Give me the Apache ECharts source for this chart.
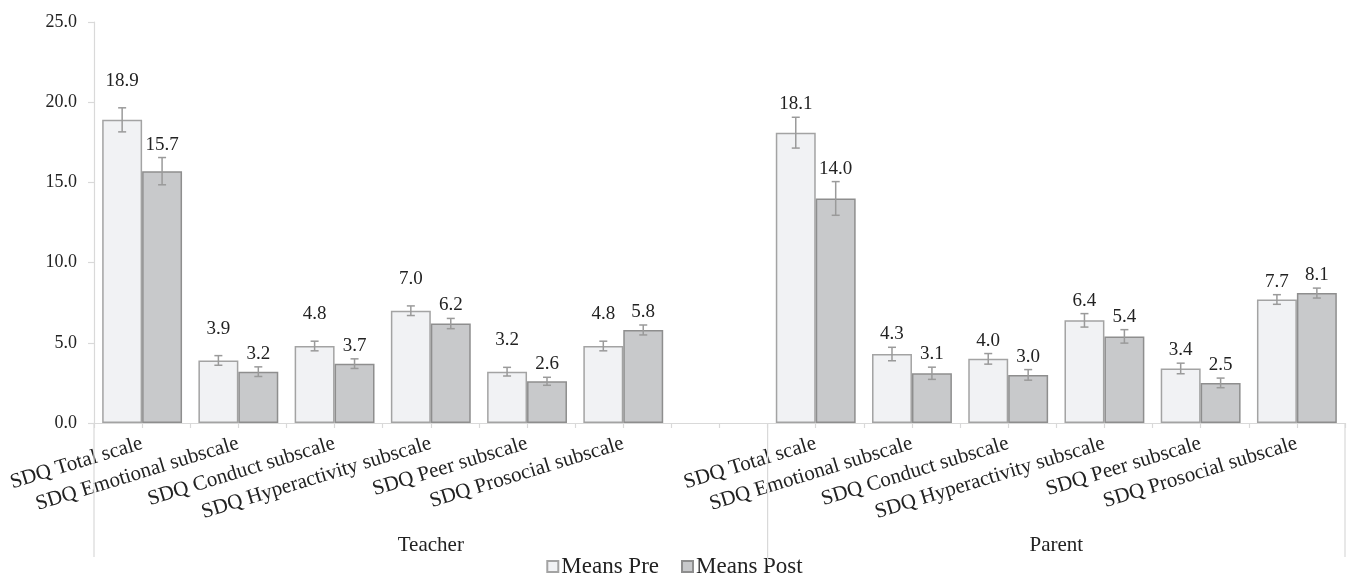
<!DOCTYPE html>
<html>
<head>
<meta charset="utf-8">
<script src="https://cdn.jsdelivr.net/npm/echarts@6/dist/echarts.min.js"></script>
<style>
  html, body { margin: 0; padding: 0; background: #fff; }
  #chart { width: 1349px; height: 575px; }
</style>
</head>
<body>
<div id="chart"></div>
<script>
// SDQ scores before and after, rated by teachers and by parents
const subscales = ['SDQ Total scale', 'SDQ Emotional subscale', 'SDQ Conduct subscale',
  'SDQ Hyperactivity subscale', 'SDQ Peer subscale', 'SDQ Prosocial subscale'];
const groups = ['Teacher', 'Parent'];
const seriesNames = ['Means Pre', 'Means Post'];

const teacherPre = [18.9, 3.9, 4.8, 7.0, 3.2, 4.8];
const teacherPost = [15.7, 3.2, 3.7, 6.2, 2.6, 5.8];
const parentPre = [18.1, 4.3, 4.0, 6.4, 3.4, 7.7];
const parentPost = [14.0, 3.1, 3.0, 5.4, 2.5, 8.1];

// standard errors drawn as error bars
const teacherPreErr = [0.75, 0.30, 0.30, 0.30, 0.27, 0.30];
const teacherPostErr = [0.85, 0.30, 0.30, 0.32, 0.25, 0.31];
const parentPreErr = [0.96, 0.42, 0.33, 0.42, 0.33, 0.30];
const parentPostErr = [1.05, 0.38, 0.33, 0.42, 0.30, 0.31];

const yTicks = [0, 5, 10, 15, 20, 25];

// ---- build the axis: teacher block, one empty slot, parent block ----
const axisCats = subscales.concat([''], subscales);
const gap = [null];
const preValues = teacherPre.concat(gap, parentPre);
const postValues = teacherPost.concat(gap, parentPost);
const preErrs = teacherPreErr.concat(gap, parentPreErr);
const postErrs = teacherPostErr.concat(gap, parentPostErr);

const BAR_FRAC = 0.415;
const FONT = '"Liberation Serif", "Times New Roman", serif';
const TEXT = '#222222';
const AXIS = '#d9d9d9';

// error bar items: [category index, mean, error, series index]
const errData = [];
preValues.forEach((v, i) => { if (v != null) errData.push([i, v, preErrs[i], 0]); });
postValues.forEach((v, i) => { if (v != null) errData.push([i, v, postErrs[i], 1]); });

// group spans on the category axis: [first index, last index, group index]
const groupSpans = [[0, subscales.length, 0], [subscales.length + 1, axisCats.length - 1, 1]];

function renderErr(params, api) {
  const idx = api.value(0), mean = api.value(1), err = api.value(2), s = api.value(3);
  const band = api.size([1, 0])[0];
  const bw = band * BAR_FRAC;
  const c = api.coord([idx, mean]);
  const x = c[0] + (s === 0 ? -bw / 2 : bw / 2);
  const yTop = api.coord([idx, mean + err])[1];
  const yBot = api.coord([idx, mean - err])[1];
  const cap = 4;
  const stroke = { stroke: '#9a9a9a', lineWidth: 1.5 };
  // teacher pre-scores carry their labels a little higher
  const lift = (s === 0 && idx < subscales.length) ? 27 : 13;
  return {
    type: 'group',
    children: [
      { type: 'line', shape: { x1: x, y1: yTop, x2: x, y2: yBot }, style: stroke },
      { type: 'line', shape: { x1: x - cap, y1: yTop, x2: x + cap, y2: yTop }, style: stroke },
      { type: 'line', shape: { x1: x - cap, y1: yBot, x2: x + cap, y2: yBot }, style: stroke },
      { type: 'text', x: x, y: yTop - lift,
        style: { text: mean.toFixed(1), fill: TEXT, font: '19px ' + FONT,
                 textAlign: 'center', textVerticalAlign: 'middle' } }
    ]
  };
}

function renderGroups(params, api) {
  const first = api.value(0), last = api.value(1), g = api.value(2);
  const band = api.size([1, 0])[0];
  const y0 = api.coord([first, 0])[1];
  const xl = api.coord([first, 0])[0] - band / 2;
  const xr = api.coord([last, 0])[0] + band / 2;
  const stroke = { stroke: AXIS, lineWidth: 1.2 };
  const children = [
    { type: 'line', shape: { x1: xl, y1: y0, x2: xl, y2: y0 + (g === 0 ? 134 : 142) }, style: stroke },
    { type: 'text', x: (xl + xr) / 2, y: y0 + 122,
      style: { text: groups[g], fill: TEXT, font: '21px ' + FONT,
               textAlign: 'center', textVerticalAlign: 'middle' } }
  ];
  if (g === groups.length - 1) {
    children.push({ type: 'line', shape: { x1: xr, y1: y0, x2: xr, y2: y0 + 134 }, style: stroke });
  }
  return { type: 'group', children: children };
}

const chart = echarts.init(document.getElementById('chart'), null, { renderer: 'canvas' });
chart.setOption({
  backgroundColor: '#ffffff',
  animation: false,
  textStyle: { fontFamily: FONT },
  grid: { left: 94, right: 4, top: 22, bottom: 152, containLabel: false },
  legend: {
    data: seriesNames,
    top: 550,
    left: 'center',
    icon: 'rect',
    itemWidth: 11,
    itemHeight: 11,
    itemGap: 22,
    textStyle: { fontFamily: FONT, fontSize: 23, color: TEXT, padding: [0, 0, 0, -2] }
  },
  xAxis: [
    {
      type: 'category',
      data: axisCats,
      axisLine: { show: true, lineStyle: { color: AXIS, width: 1.2 } },
      axisTick: { show: false },
      axisLabel: { rotate: 17, margin: 20, interval: 0, fontFamily: FONT, fontSize: 21, color: TEXT }
    },
    {
      // half-category tick marks along the base line
      type: 'category',
      position: 'bottom',
      data: new Array(axisCats.length * 2).fill(''),
      axisLine: { show: false },
      axisLabel: { show: false },
      axisTick: { show: true, length: 5, interval: 0, lineStyle: { color: AXIS, width: 1.2 } }
    }
  ],
  yAxis: {
    type: 'value',
    min: yTicks[0],
    max: yTicks[yTicks.length - 1],
    interval: yTicks[1] - yTicks[0],
    splitLine: { show: false },
    axisLine: { show: true, lineStyle: { color: AXIS, width: 1.2 } },
    axisTick: { show: true, length: 6, lineStyle: { color: AXIS, width: 1.2 } },
    axisLabel: { fontFamily: FONT, fontSize: 18, color: TEXT, margin: 17,
                 formatter: v => v.toFixed(1) }
  },
  series: [
    {
      name: seriesNames[0],
      type: 'bar',
      data: preValues,
      barWidth: (BAR_FRAC * 100) + '%',
      barGap: '0%',
      itemStyle: { color: '#f1f2f4', borderColor: '#a3a3a3', borderWidth: 1.5 }
    },
    {
      name: seriesNames[1],
      type: 'bar',
      data: postValues,
      barWidth: (BAR_FRAC * 100) + '%',
      barGap: '0%',
      itemStyle: { color: '#c8c9cb', borderColor: '#8e8e8e', borderWidth: 1.5 }
    },
    {
      type: 'custom',
      renderItem: renderErr,
      data: errData,
      encode: { x: 0, y: 1 },
      clip: false,
      z: 5,
      silent: true
    },
    {
      type: 'custom',
      renderItem: renderGroups,
      data: groupSpans.map(s => [s[0], s[1], s[2], 0]),
      encode: { x: 0, y: 3 },
      clip: false,
      z: 5,
      silent: true
    }
  ]
});
</script>
</body>
</html>
